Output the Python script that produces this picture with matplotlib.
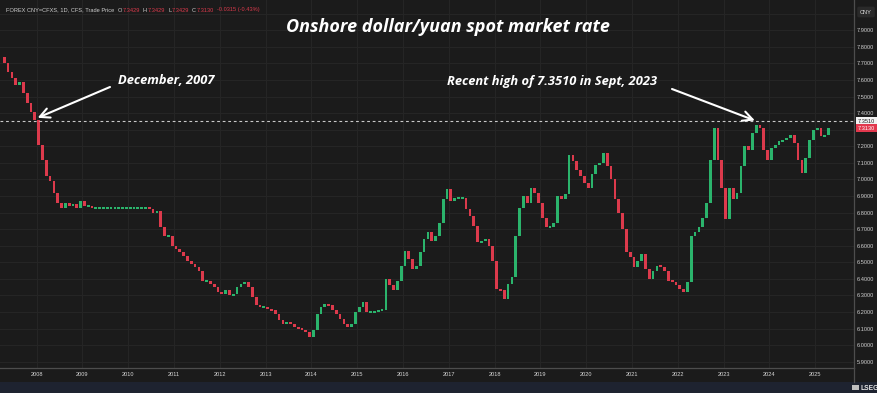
import numpy as np
import matplotlib
matplotlib.use("Agg")
import matplotlib.pyplot as plt
from matplotlib.patches import Rectangle
from matplotlib.lines import Line2D
from matplotlib.transforms import blended_transform_factory

# ---------------- data (monthly closes, USD/CNY onshore) ----------------
start_year, start_month = 2007, 4
first_open = 7.74
closes_2007 = [7.70, 7.65, 7.61, 7.57, 7.59, 7.52, 7.46, 7.41, 7.36]
closes_2008 = [7.21, 7.12, 7.02, 6.99, 6.92, 6.86, 6.83, 6.86, 6.84, 6.85, 6.83, 6.87]
closes_2009 = [6.84, 6.84, 6.83, 6.83, 6.83, 6.83, 6.83, 6.83, 6.83, 6.83, 6.83, 6.83]
closes_2010 = [6.83, 6.83, 6.83, 6.83, 6.83, 6.82, 6.80, 6.81, 6.71, 6.66, 6.66, 6.60]
closes_2011 = [6.58, 6.56, 6.54, 6.51, 6.49, 6.47, 6.45, 6.39, 6.39, 6.37, 6.35, 6.32]
closes_2012 = [6.31, 6.33, 6.30, 6.31, 6.35, 6.37, 6.38, 6.35, 6.29, 6.24, 6.23, 6.23]
closes_2013 = [6.22, 6.21, 6.19, 6.15, 6.13, 6.14, 6.13, 6.11, 6.10, 6.09, 6.08, 6.05]
closes_2014 = [6.09, 6.19, 6.23, 6.25, 6.24, 6.21, 6.19, 6.16, 6.13, 6.11, 6.13, 6.20]
closes_2015 = [6.23, 6.26, 6.20, 6.20, 6.20, 6.21, 6.21, 6.40, 6.36, 6.33, 6.39, 6.48]
closes_2016 = [6.57, 6.52, 6.46, 6.48, 6.56, 6.64, 6.68, 6.63, 6.66, 6.74, 6.88, 6.94]
closes_2017 = [6.87, 6.89, 6.89, 6.89, 6.82, 6.78, 6.72, 6.62, 6.63, 6.64, 6.60, 6.51]
closes_2018 = [6.34, 6.33, 6.28, 6.37, 6.41, 6.66, 6.83, 6.90, 6.86, 6.95, 6.92, 6.86]
closes_2019 = [6.77, 6.71, 6.71, 6.74, 6.90, 6.88, 6.91, 7.15, 7.11, 7.06, 7.02, 6.98]
closes_2020 = [6.95, 7.03, 7.09, 7.10, 7.16, 7.08, 7.00, 6.88, 6.80, 6.70, 6.56, 6.53]
closes_2021 = [6.47, 6.51, 6.55, 6.46, 6.40, 6.45, 6.48, 6.47, 6.45, 6.39, 6.38, 6.36]
closes_2022 = [6.34, 6.32, 6.38, 6.66, 6.68, 6.71, 6.77, 6.86, 7.12, 7.31, 7.12, 6.95]
closes_2023 = [6.76, 6.95, 6.88, 6.92, 7.08, 7.20, 7.18, 7.28, 7.33, 7.31, 7.18, 7.12]
closes_2024 = [7.19, 7.21, 7.23, 7.24, 7.25, 7.27, 7.22, 7.12, 7.04, 7.13, 7.24, 7.30]
closes_2025 = [7.31, 7.26, 7.27, 7.313]

year_ticks = list(range(2008, 2026))
price_ticks = [5.9, 6.0, 6.1, 6.2, 6.3, 6.4, 6.5, 6.6, 6.7, 6.8, 6.9,
               7.0, 7.1, 7.2, 7.3, 7.4, 7.5, 7.6, 7.7, 7.8, 7.9]
recent_high = 7.3510
last_price = 7.3130
header_main = "FOREX CNY=CFXS, 1D, CFS, Trade Price"
header_ohlc = [("O", "7.3429"), ("H", "7.3429"), ("L", "7.3429"), ("C", "7.3130")]
header_change = "-0.0315 (-0.43%)"
title = "Onshore dollar/yuan spot market rate"
note_left = "December, 2007"
note_right = "Recent high of 7.3510 in Sept, 2023"

closes = (closes_2007 + closes_2008 + closes_2009 + closes_2010 + closes_2011 +
          closes_2012 + closes_2013 + closes_2014 + closes_2015 + closes_2016 +
          closes_2017 + closes_2018 + closes_2019 + closes_2020 + closes_2021 +
          closes_2022 + closes_2023 + closes_2024 + closes_2025)
closes = np.array(closes)
opens = np.concatenate([[first_open], closes[:-1]])
idx = np.arange(len(closes)) + (start_month - 1)
xc = start_year + (idx + 0.5) / 12.0

# ---------------- style ----------------
BG = "#1b1b1b"
GRID = "#262626"
GREEN = "#2bb46c"
RED = "#dc3a4c"
W, H = 878, 393
AXFONT = "Liberation Sans"
TFONT = ["Open Sans", "DejaVu Sans"]
HS = 4.1  # header font size

fig = plt.figure(figsize=(W / 100, H / 100), dpi=100)
fig.patch.set_facecolor(BG)
fig.add_artist(Rectangle((0, 0), 1, 11 / H, transform=fig.transFigure,
                         facecolor="#1e2330", edgecolor="none", zorder=0))

ax = fig.add_axes([0, 25 / H, 854 / W, 368 / H])
ax.set_facecolor(BG)
ax.set_xlim(2007.1987, 2025.845)
ax.set_ylim(5.862, 8.083)

for v in np.arange(5.9, 8.05, 0.1):
    ax.axhline(v, color=GRID, lw=0.7, zorder=0)
for yr in year_ticks:
    ax.axvline(yr, color=GRID, lw=0.7, zorder=0)

# candles
up = closes >= opens
colors = np.where(up, GREEN, RED)
span = np.abs(closes - opens)
heights = np.maximum(span, 0.012)
bottoms = np.minimum(opens, closes) - (heights - span) / 2
ax.bar(xc, heights, bottom=bottoms, width=0.72 / 12, color=colors,
       linewidth=0, zorder=3)

# recent-high dashed line
ax.axhline(recent_high, color="#c9c9c9", lw=0.8, ls=(0, (2.5, 2.5)), zorder=4)

# axes styling
for s in ["top", "left"]:
    ax.spines[s].set_visible(False)
ax.spines["right"].set_color("#4d4d4d")
ax.spines["bottom"].set_color("#4d4d4d")
ax.spines["right"].set_linewidth(0.9)
ax.spines["bottom"].set_linewidth(0.9)

ax.yaxis.tick_right()
ax.set_yticks(price_ticks)
ax.set_yticklabels(["" if abs(p - 7.3) < 1e-9 else f"{p:.4f}" for p in price_ticks],
                   fontfamily=AXFONT)
ax.set_xticks(year_ticks)
ax.set_xticklabels([str(y) for y in year_ticks], fontfamily=AXFONT)
ax.tick_params(axis="y", length=0, pad=2.2, labelsize=4.1, colors="#cfcfcf")
ax.tick_params(axis="x", length=0, pad=3.2, labelsize=4.1, colors="#d6d6d6")

# extend right axis line through the label band
fig.add_artist(Line2D([854 / W, 854 / W], [11 / H, 25 / H], transform=fig.transFigure,
                      color="#4d4d4d", lw=0.9))

# price badges
trans = blended_transform_factory(ax.transAxes, ax.transData)
ax.text(1.0045, recent_high, f"{recent_high:.4f}", transform=trans, fontsize=4.1,
        fontfamily=AXFONT, color="#222222", va="center", ha="left", clip_on=False,
        bbox=dict(boxstyle="square,pad=0.3", fc="#f2f2f2", ec="none"), zorder=6)
ax.text(1.0045, last_price - 0.004, f"{last_price:.4f}", transform=trans, fontsize=4.1,
        fontfamily=AXFONT, color="white", va="center", ha="left", clip_on=False,
        bbox=dict(boxstyle="square,pad=0.3", fc="#e2384d", ec="none"), zorder=6)

# currency box
fig.text(866 / W, 1 - 12 / H, "CNY", fontsize=4.1, fontfamily=AXFONT, color="#dddddd",
         ha="center", va="center",
         bbox=dict(boxstyle="round,pad=0.5,rounding_size=0.3", fc="#2a2a2a", ec="none"))

# header line
t = fig.text(6 / W, 1 - 10 / H, header_main, fontsize=HS, fontfamily=AXFONT,
             color="#cfcfcf", va="center", ha="left")
prev = t
gap = 2.4
for letter, val in header_ohlc:
    lt = ax.annotate(letter, xy=(1, 0.5), xycoords=prev, xytext=(gap, 0),
                     textcoords="offset points", fontsize=HS, fontfamily=AXFONT,
                     color="#cfcfcf", va="center", ha="left", annotation_clip=False)
    vt = ax.annotate(val, xy=(1, 0.5), xycoords=lt, xytext=(0.2, 0),
                     textcoords="offset points", fontsize=HS, fontfamily=AXFONT,
                     color=RED, va="center", ha="left", annotation_clip=False)
    prev = vt
ax.annotate(header_change, xy=(1, 0.5), xycoords=prev, xytext=(gap, 0),
            textcoords="offset points", fontsize=HS, fontfamily=AXFONT,
            color=RED, va="center", ha="left", annotation_clip=False)

# title
fig.text(448 / W, 1 - 27 / H, title, fontsize=13, fontweight="bold", fontstyle="italic",
         fontfamily=TFONT, color="white", ha="center", va="center")

# notes and arrows
fig.text(118 / W, 1 - 80 / H, note_left, fontsize=9.3, fontweight="bold",
         fontstyle="italic", fontfamily=TFONT, color="white", ha="left", va="center")
fig.text(447 / W, 1 - 82 / H, note_right, fontsize=9.3, fontweight="bold",
         fontstyle="italic", fontfamily=TFONT, color="white", ha="left", va="center")

arrow = dict(arrowstyle="->,head_length=0.7,head_width=0.35", color="white", lw=1.5,
             shrinkA=0, shrinkB=0)
ax.annotate("", xy=(2008.02, 7.372), xytext=(110, H - 87), textcoords="figure pixels",
            arrowprops=arrow, zorder=7)
ax.annotate("", xy=(2023.68, 7.356), xytext=(672, H - 89), textcoords="figure pixels",
            arrowprops=arrow, zorder=7)

# logo
fig.text(870 / W, 1 - 388 / H, "LSEG", fontsize=4.8, fontweight="bold",
         fontfamily=AXFONT, color="#e8e8e8", ha="center", va="center")
fig.add_artist(Rectangle((852 / W, 3.5 / H), 7 / W, 5 / H, transform=fig.transFigure,
                         facecolor="#bfbfbf", edgecolor="none"))

fig.savefig("out.png", dpi=100, facecolor=BG)
